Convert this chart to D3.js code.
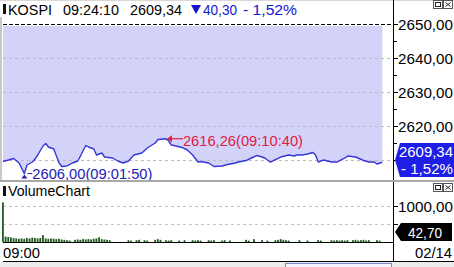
<!DOCTYPE html>
<html><head><meta charset="utf-8">
<script src="https://cdn.jsdelivr.net/npm/d3@7"></script>
<style>
html,body{margin:0;padding:0;background:#fff;overflow:hidden}
svg{display:block;font-family:"Liberation Sans",Arial,sans-serif}
</style></head><body>
<svg id="c" width="454" height="267"></svg>
<script>
// ---- data (seconds after 09:00:00) ----
const priceSec = [30,50,70,90,110,120,140,150,160,180,190,200,210,220,230,240,250,270,290,310,320,340,350,370,380,400,410,440,460,480,500,520,550,570,600,610,640,650,660,670,700,720,740,760,770,800,820,850,870,900,910,940,960,980,1000,1010,1030,1040,1070,1100,1120,1130,1150,1170,1190,1200,1210,1230,1260,1280,1310,1320,1350,1380,1400,1420,1430,1450];
const priceVal = [2609.56,2610.00,2610.44,2609.12,2606.00,2608.53,2609.41,2610.29,2611.47,2614.12,2614.85,2613.82,2613.53,2613.24,2611.18,2609.12,2608.09,2608.24,2609.12,2609.71,2611.18,2614.26,2613.82,2613.24,2611.47,2612.06,2610.88,2610.59,2609.71,2609.12,2609.71,2611.47,2612.06,2613.53,2615.00,2616.03,2616.26,2615.59,2614.41,2614.26,2613.68,2612.94,2611.47,2609.41,2609.56,2609.12,2608.09,2608.24,2608.68,2609.12,2609.41,2609.85,2610.59,2611.32,2610.88,2610.59,2609.41,2609.71,2610.88,2611.47,2611.18,2611.47,2611.47,2611.76,2612.21,2611.47,2609.41,2610.00,2609.41,2609.41,2610.59,2611.18,2610.88,2609.85,2609.41,2609.41,2608.82,2609.34];
const volSec = d3.range(30, 1460, 10);
const volVal = [1100,150,140,130,110,100,90,100,90,110,
                100,120,110,100,110,190,100,90,100,90,
                80,90,70,60,50,40,0,60,70,60,
                80,70,80,70,90,100,130,80,70,60,
                50,0,0,0,0,0,0,50,40,0,
                50,60,0,50,40,0,0,60,80,60,
                0,50,40,50,0,0,40,0,50,0,
                0,50,40,50,40,0,0,50,40,50,
                0,0,40,50,0,40,0,0,0,0,
                0,60,40,0,80,0,0,50,0,40,
                0,0,50,60,80,60,50,40,0,0,
                0,50,0,0,40,0,0,0,50,40,
                0,0,0,50,40,50,40,50,40,50,
                0,50,60,40,50,60,40,50,0,0,
                50,40,0];
const priceTicks = [2610, 2620, 2630, 2640, 2650];
const priceMinor = [2615, 2625, 2635, 2645];
const volTicks = [500, 1000];
const volLabelTicks = [1000];
const symbol = "KOSPI", lastTime = "09:24:10", lastPrice = 2609.34, change = 40.30, changePct = -1.52;
const hiPrice = 2616.26, hiTime = "09:10:40", hiSec = 640;
const loPrice = 2606.00, loTime = "09:01:50", loSec = 110;
const lastVol = 42.70;
const dateLabel = "02/14", startLabel = "09:00";

const fmt = v => d3.format(".2f")(v).replace(".", ",");

const svg = d3.select("#c");
const L = 3, R = 393;
const x = d3.scaleLinear().domain([30, 1490]).range([L, R]);
const y = d3.scaleLinear().domain([2610, 2650]).range([160, 24]);
const yv = d3.scaleLinear().domain([0, 1000]).range([242, 206]);

// background
svg.append("rect").attr("width", 454).attr("height", 267).attr("fill", "#fff");
svg.append("line").attr("x1",0).attr("x2",454).attr("y1",0.5).attr("y2",0.5).attr("stroke","#d8d8d8");
svg.append("line").attr("x1",1).attr("x2",1).attr("y1",17).attr("y2",181).attr("stroke","#c8c8c8").attr("stroke-width",2);

// filled area above the line
const area = d3.area().x((d,i)=>x(priceSec[i])).y0(y(2650)+2).y1(d=>y(d));
svg.append("path").datum(priceVal).attr("d", area).attr("fill", "#d3d3fa");

// grid
svg.selectAll(".pg").data(priceTicks.filter(t=>t<2650)).enter().append("line")
  .attr("x1", L).attr("x2", R).attr("y1", d=>Math.round(y(d))+0.5).attr("y2", d=>Math.round(y(d))+0.5)
  .attr("stroke", "#bdbdbd").attr("stroke-dasharray", "3,3");
svg.append("line").attr("x1", L).attr("x2", R).attr("y1", y(2650)+0.5).attr("y2", y(2650)+0.5)
  .attr("stroke", "#000").attr("stroke-dasharray", "4,2");

// price line
const line = d3.line().x((d,i)=>x(priceSec[i])).y(d=>y(d));
svg.append("path").datum(priceVal).attr("d", line).attr("fill","none")
  .attr("stroke", "#3636d8").attr("stroke-width", 1.4).attr("stroke-linejoin","round");

// high annotation
const hx = x(hiSec), hy = y(hiPrice);
svg.append("line").attr("x1", hx+2).attr("x2", hx+17).attr("y1", hy).attr("y2", hy).attr("stroke", "#e0203c").attr("stroke-width",1.2);
svg.append("path").attr("d", `M${hx+1},${hy} L${hx+6},${hy-3.5} L${hx+6},${hy+3.5}Z`).attr("fill","#e0203c");
svg.append("text").attr("x", hx+17).attr("y", hy+7.5).attr("font-size", 15).attr("fill", "#e0203c")
  .attr("textLength", 120).attr("lengthAdjust","spacingAndGlyphs")
  .text(`${fmt(hiPrice)}(${hiTime})`);

// low annotation
const lx = x(loSec), ly = y(loPrice);
svg.append("path").attr("d", `M${lx-3},${ly+5} L${lx},${ly+1} L${lx+3},${ly+5}Z`).attr("fill","#2020b8");
svg.append("line").attr("x1", lx+3).attr("x2", lx+8).attr("y1", ly).attr("y2", ly).attr("stroke", "#2020b8");
svg.append("text").attr("x", lx+8).attr("y", ly+5).attr("font-size", 15).attr("fill", "#2020b8")
  .attr("textLength", 120).attr("lengthAdjust","spacingAndGlyphs")
  .text(`${fmt(loPrice)}(${loTime})`);

// header
svg.append("rect").attr("x",3).attr("y",4).attr("width",3).attr("height",10).attr("fill","#111");
svg.append("text").attr("x",8).attr("y",15).attr("font-size",15).attr("textLength",44).attr("lengthAdjust","spacingAndGlyphs").text(symbol);
svg.append("text").attr("x",63).attr("y",15).attr("font-size",15).attr("textLength",56).attr("lengthAdjust","spacingAndGlyphs").text(lastTime);
svg.append("text").attr("x",130).attr("y",15).attr("font-size",15).attr("textLength",52).attr("lengthAdjust","spacingAndGlyphs").text(fmt(lastPrice));
svg.append("path").attr("d","M191,5 L201,5 L196,14Z").attr("fill","#1515d0");
svg.append("text").attr("x",203).attr("y",15).attr("font-size",15).attr("fill","#1515d0").attr("textLength",34).attr("lengthAdjust","spacingAndGlyphs").text(fmt(change));
svg.append("text").attr("x",243).attr("y",15).attr("font-size",15).attr("fill","#1515d0").attr("textLength",54).attr("lengthAdjust","spacingAndGlyphs").text("- " + fmt(Math.abs(changePct)) + "%");

// window buttons
function buttons(by){
  const g = svg.append("g");
  g.append("rect").attr("x",433.5).attr("y",by+0.5).attr("width",9).attr("height",8).attr("fill","#fff").attr("stroke","#555");
  g.append("rect").attr("x",435.5).attr("y",by+2.5).attr("width",5).attr("height",4).attr("fill","none").attr("stroke","#222");
  g.append("rect").attr("x",443.5).attr("y",by+0.5).attr("width",9).attr("height",8).attr("fill","#fff").attr("stroke","#555");
  g.append("path").attr("d",`M445.5,${by+2.5} L450.5,${by+6.5} M450.5,${by+2.5} L445.5,${by+6.5}`).attr("stroke","#222");
}
buttons(0);
buttons(183);

// right axis (price)
svg.append("line").attr("x1",R+0.5).attr("x2",R+0.5).attr("y1",0).attr("y2",262).attr("stroke","#000");
svg.selectAll(".pt").data(priceTicks).enter().append("line")
  .attr("x1",R).attr("x2",R+5).attr("y1",d=>Math.round(y(d))+0.5).attr("y2",d=>Math.round(y(d))+0.5).attr("stroke","#000");
svg.selectAll(".pm").data(priceMinor).enter().append("line")
  .attr("x1",R).attr("x2",R+4).attr("y1",d=>Math.round(y(d))+0.5).attr("y2",d=>Math.round(y(d))+0.5).attr("stroke","#000");
svg.selectAll(".pl").data(priceTicks.filter(t=>t>2610)).enter().append("text")
  .attr("x",398).attr("y",d=>y(d)+6).attr("font-size",15).attr("textLength",55).attr("lengthAdjust","spacingAndGlyphs")
  .text(d=>fmt(d));

// current price box
const cy = y(2610);
svg.append("path").attr("d",`M395,${cy} L400,${cy-17} L454,${cy-17} L454,${cy+17} L400,${cy+17}Z`).attr("fill","#1e1ee6");
svg.append("text").attr("x",399).attr("y",cy-3).attr("font-size",15).attr("fill","#fff").attr("textLength",54).attr("lengthAdjust","spacingAndGlyphs").text(fmt(lastPrice));
svg.append("text").attr("x",401).attr("y",cy+14).attr("font-size",15).attr("fill","#fff").attr("textLength",52).attr("lengthAdjust","spacingAndGlyphs").text("- " + fmt(Math.abs(changePct)) + "%");

// panel separator
svg.append("rect").attr("x",0).attr("y",180).attr("width",454).attr("height",2).attr("fill","#a8a8a8");

// volume panel
svg.append("rect").attr("x",3).attr("y",186).attr("width",3).attr("height",10).attr("fill","#111");
svg.append("text").attr("x",8).attr("y",196).attr("font-size",15).attr("textLength",82).attr("lengthAdjust","spacingAndGlyphs").text("VolumeChart");
svg.selectAll(".vg").data(volTicks).enter().append("line")
  .attr("x1",L).attr("x2",R).attr("y1",d=>Math.round(yv(d))+0.5).attr("y2",d=>Math.round(yv(d))+0.5)
  .attr("stroke","#c4c4c4").attr("stroke-dasharray","3,3");
svg.selectAll(".vb").data(volVal).enter().append("rect")
  .attr("x",(d,i)=>x(volSec[i])-1).attr("width",1.8)
  .attr("y",d=>yv(d)).attr("height",d=>yv(0)-yv(d)).attr("fill","#1f5a1f");
svg.selectAll(".vt").data(volTicks).enter().append("line")
  .attr("x1",R).attr("x2",R+5).attr("y1",d=>Math.round(yv(d))+0.5).attr("y2",d=>Math.round(yv(d))+0.5).attr("stroke","#000");
svg.selectAll(".vl").data(volLabelTicks).enter().append("text")
  .attr("x",398).attr("y",d=>yv(d)+6).attr("font-size",15).attr("textLength",55).attr("lengthAdjust","spacingAndGlyphs").text(d=>fmt(d));
const vy = 232;
svg.append("path").attr("d",`M395,${vy} L401,${vy-9} L452,${vy-9} L452,${vy+9} L401,${vy+9}Z`).attr("fill","#000");
svg.append("text").attr("x",408).attr("y",vy+6).attr("font-size",15).attr("fill","#fff").attr("textLength",34).attr("lengthAdjust","spacingAndGlyphs").text(fmt(lastVol));

// x axis area
svg.append("line").attr("x1",L).attr("x2",R).attr("y1",242.5).attr("y2",242.5).attr("stroke","#000");
svg.append("line").attr("x1",L).attr("x2",454).attr("y1",261.5).attr("y2",261.5).attr("stroke","#000");
svg.append("text").attr("x",3).attr("y",258).attr("font-size",15).attr("textLength",37).attr("lengthAdjust","spacingAndGlyphs").text(startLabel);
svg.append("text").attr("x",415).attr("y",258).attr("font-size",15).attr("textLength",37).attr("lengthAdjust","spacingAndGlyphs").text(dateLabel);
svg.append("rect").attr("x",0).attr("y",262).attr("width",454).attr("height",5).attr("fill","#ececec");
svg.append("rect").attr("x",285.5).attr("y",263.5).attr("width",106).attr("height",6).attr("fill","#f4f4ff").attr("stroke","#7a8ad0");
</script>
</body></html>
